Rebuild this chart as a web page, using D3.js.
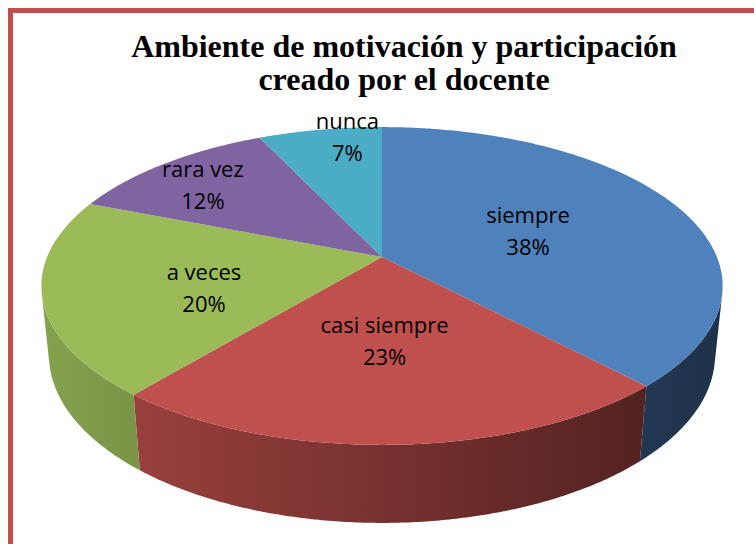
<!DOCTYPE html>
<html>
<head>
<meta charset="utf-8">
<script src="https://cdn.jsdelivr.net/npm/d3@7"></script>
<style>
  body { margin: 0; background: #fff; }
  svg { display: block; }
</style>
</head>
<body>
<div id="chart"></div>
<script>
// data
var categories = ["siempre", "casi siempre", "a veces", "rara vez", "nunca"];
var values = [38, 23, 20, 12, 7];
var colors = ["#4F81BD", "#C0504D", "#9BBB59", "#8064A2", "#4BACC6"];
var titleLines = ["Ambiente de motivación y participación", "creado por el docente"];

// label placement (fraction of radius, angle nudge in degrees)
var labelR = [0.48, 0.5, 0.55, 0.77, 0.91];
var labelNudge = [1, 1, -7, -2.5, 5];

var W = 754, H = 544;
var cx = 382, cy = 257;

// perspective camera for the 3D pie
var elev = 27.3 * Math.PI / 180;
var s = Math.sin(elev), c = Math.cos(elev);
var D = 4.87, F = 1631, thick = 0.234;

function proj(theta, r, h) {
    var X = r * Math.sin(theta), Z = -r * Math.cos(theta), Y = h;
    var depth = D - s * Y - c * Z;
    return [cx + F * X / depth, cy - F * (c * Y - s * Z) / depth];
}

var svg = d3.select("#chart").append("svg")
    .attr("width", W)
    .attr("height", H);

// frame
svg.append("rect")
    .attr("x", 10.5).attr("y", 10.5)
    .attr("width", W + 20).attr("height", H + 20)
    .attr("fill", "none")
    .attr("stroke", "#C0504D")
    .attr("stroke-width", 5);

// title
svg.selectAll(".title")
    .data(titleLines)
    .enter().append("text")
    .attr("class", "title")
    .attr("x", 404)
    .attr("y", function(d, i) { return 57 + i * 33; })
    .attr("text-anchor", "middle")
    .style("font-family", "'Liberation Serif', 'Times New Roman', serif")
    .style("font-weight", "bold")
    .style("font-size", "32px")
    .text(function(d) { return d; });

var pie = d3.pie().sort(null).value(function(d) { return d; });
var arcs = pie(values);

var defs = svg.append("defs");
var step = Math.PI / 360;

function rimPoints(a0, a1, h) {
    var pts = [];
    var n = Math.max(2, Math.ceil((a1 - a0) / step));
    for (var k = 0; k <= n; k++) {
        pts.push(proj(a0 + (a1 - a0) * k / n, 1, h));
    }
    return pts;
}

// side walls (front facing part only)
var visFrom = Math.acos(-1 / (D * c));
var visTo = 2 * Math.PI - visFrom;
var leftX = proj(visTo, 1, 0)[0], rightX = proj(visFrom, 1, 0)[0];

arcs.forEach(function(a, i) {
    var a0 = Math.max(a.startAngle, visFrom);
    var a1 = Math.min(a.endAngle, visTo);
    if (a1 <= a0) return;

    var base = d3.rgb(colors[i]);
    var grad = defs.append("linearGradient")
        .attr("id", "wall" + i)
        .attr("gradientUnits", "userSpaceOnUse")
        .attr("x1", leftX).attr("x2", rightX)
        .attr("y1", 0).attr("y2", 0);
    [[0, 0.86], [1, 0.38]].forEach(function(st) {
        var f = st[1];
        grad.append("stop")
            .attr("offset", st[0])
            .attr("stop-color", d3.rgb(base.r * f, base.g * f, base.b * f).formatHex());
    });

    var top = rimPoints(a0, a1, 0);
    var bot = rimPoints(a0, a1, -thick).reverse();
    svg.append("path")
        .attr("d", d3.line()(top.concat(bot)) + "Z")
        .attr("fill", "url(#wall" + i + ")");
});

// top faces
svg.selectAll(".slice")
    .data(arcs)
    .enter().append("path")
    .attr("class", "slice")
    .attr("d", function(a) {
        var pts = [proj(0, 0, 0)].concat(rimPoints(a.startAngle, a.endAngle, 0));
        return d3.line()(pts) + "Z";
    })
    .attr("fill", function(d, i) { return colors[i]; });

// labels
var total = d3.sum(values);
var labels = svg.selectAll(".lbl")
    .data(arcs)
    .enter().append("text")
    .attr("class", "lbl")
    .attr("text-anchor", "middle")
    .style("font-family", "'Open Sans', 'Noto Sans', sans-serif")
    .style("font-size", "22px")
    .attr("fill", "#000")
    .each(function(a, i) {
        var mid = (a.startAngle + a.endAngle) / 2 + labelNudge[i] * Math.PI / 180;
        var p = proj(mid, labelR[i], 0);
        var el = d3.select(this);
        el.append("tspan").attr("x", p[0]).attr("y", p[1] - 9).text(categories[i]);
        el.append("tspan").attr("x", p[0]).attr("y", p[1] + 23)
            .text(Math.round(values[i] / total * 100) + "%");
    });
</script>
</body>
</html>
